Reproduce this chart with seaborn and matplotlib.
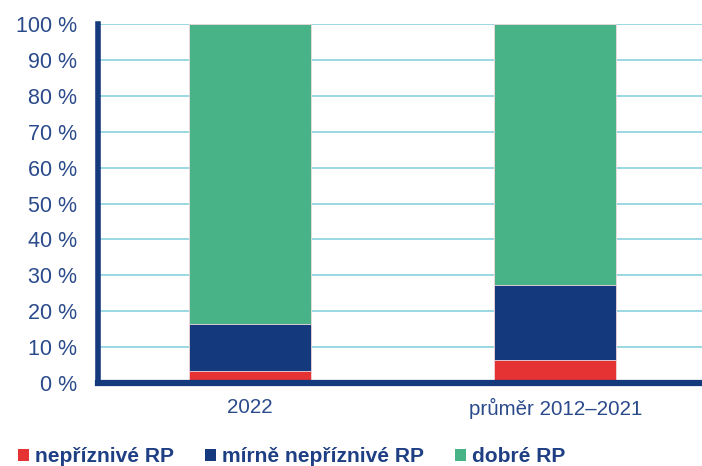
import matplotlib
matplotlib.use("Agg")
import matplotlib.pyplot as plt
import seaborn as sns
import numpy as np
import pandas as pd
from matplotlib.patches import Patch

# Data: share of risk-profile groups (percent)
categories = ["2022", "průměr 2012–2021"]
nepriznive = [3.3, 6.5]
mirne_nepriznive = [13.0, 20.9]
dobre = [83.7, 72.6]
series_names = ["nepříznivé RP", "mírně nepříznivé RP", "dobré RP"]
yticks = list(range(0, 101, 10))

colors = ["#E53333", "#14397D", "#48B386"]
text_color = "#2A4A8B"
grid_color = "#92D5E0"

sns.set_theme(style="white")
plt.rcParams["font.family"] = ["Liberation Sans", "DejaVu Sans"]

fig = plt.figure(figsize=(7.02, 4.66), dpi=100)
ax = fig.add_axes([98 / 702, 1 - 383 / 466, (702 - 98) / 702, (383 - 24) / 466])

# Cumulative tops so each stacked layer is drawn over the one beneath
lay1 = np.array(nepriznive)
lay2 = lay1 + np.array(mirne_nepriznive)
lay3 = lay2 + np.array(dobre)

for tops, col in zip([lay3, lay2, lay1], colors[::-1]):
    df = pd.DataFrame({"cat": categories, "val": tops})
    sns.barplot(data=df, x="cat", y="val", color=col, width=0.4,
                edgecolor="#F4D9DD", linewidth=0.6, saturation=1, ax=ax, zorder=3)

ax.set_xlim(-0.497, 1.48)
ax.set_ylim(0, 100)
ax.set_yticks(yticks)
ax.set_yticklabels([f"{v} %" for v in yticks])
ax.set_xlabel("")
ax.set_ylabel("")

ax.yaxis.grid(True, color=grid_color, linewidth=1.3, zorder=0)
ax.xaxis.grid(False)
ax.set_axisbelow(True)

for side in ["top", "right"]:
    ax.spines[side].set_visible(False)
ax.spines["left"].set_color("#14397D")
ax.spines["left"].set_linewidth(4)
ax.spines["bottom"].set_color("#14397D")
ax.spines["bottom"].set_linewidth(4.5)
ax.spines["left"].set_zorder(5)
ax.spines["bottom"].set_zorder(5)

ax.tick_params(axis="y", length=0, pad=15, labelsize=15.5, labelcolor=text_color)
ax.tick_params(axis="x", length=0, pad=11, labelsize=14.8, labelcolor=text_color)

handles = [Patch(facecolor=c, edgecolor="none") for c in colors]
leg = fig.legend(handles, series_names, loc="center left",
                 bbox_to_anchor=(18 / 702, 1 - 457 / 466),
                 ncol=3, frameon=False, borderpad=0, borderaxespad=0,
                 handlelength=0.54, handleheight=0.54,
                 handletextpad=0.25, columnspacing=1.5,
                 prop={"weight": "bold", "size": 15.1})
for t in leg.get_texts():
    t.set_color("#1F3F84")

fig.savefig("out.png", dpi=100)
